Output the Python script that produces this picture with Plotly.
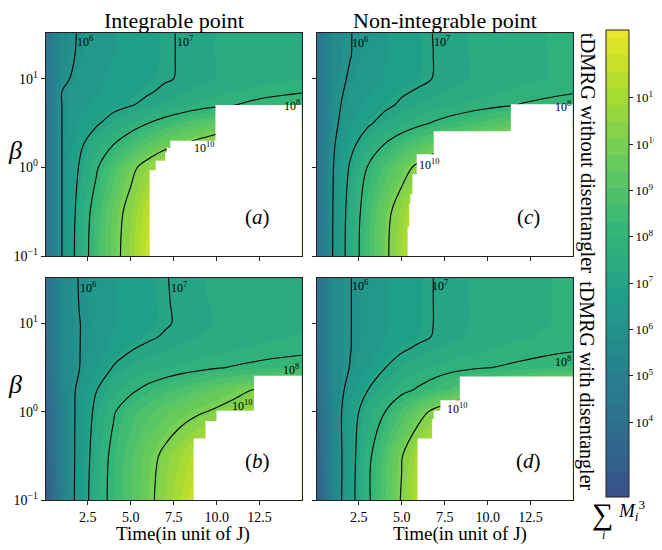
import numpy as np
import plotly.graph_objects as go
import plotly.colors as pc

# ---------------- data (log10 of sum_i M_i^3) ----------------
times = [0.05, 1, 2, 3, 4, 5, 6, 7, 8, 9, 10, 11, 12, 13, 14, 14.95]
betas = [0.1, 0.316, 1.0, 1.778, 3.162, 5.012, 7.079, 10.0, 17.78, 32.36]

# (a) integrable, without disentangler
z_a = [
    [4.0, 6.01, 7.4, 8.5, 9.6, 10.6, 11.8, 12.6, 13.2, 13.5, 13.7, 13.9, 14.0, 14.1, 14.2, 14.3],
    [4.0, 6.01, 7.3, 8.4, 9.5, 10.4, 11.5, 12.3, 12.9, 13.3, 13.6, 13.8, 13.9, 14.02, 14.1, 14.2],
    [4.0, 6.01, 7.05, 7.9, 8.8, 9.7, 10.5, 11.2, 11.8, 12.3, 12.7, 13.02, 13.2, 13.4, 13.5, 13.6],
    [4.0, 6.01, 6.85, 7.5, 8.02, 8.6, 9.15, 9.7, 10.05, 10.4, 10.7, 11.02, 11.3, 11.5, 11.7, 11.9],
    [4.1, 6.01, 6.55, 6.9, 7.3, 7.6, 7.98, 8.35, 8.7, 9.02, 9.3, 9.55, 9.8, 10.02, 10.2, 10.4],
    [4.1, 6.01, 6.4, 6.6, 6.8, 6.97, 7.15, 7.3, 7.5, 7.7, 7.85, 7.99, 8.15, 8.3, 8.4, 8.5],
    [4.2, 6.02, 6.35, 6.5, 6.65, 6.8, 6.95, 7.1, 7.22, 7.35, 7.48, 7.6, 7.7, 7.8, 7.88, 7.95],
    [4.3, 5.8, 6.25, 6.45, 6.6, 6.72, 6.83, 6.95, 7.05, 7.15, 7.25, 7.33, 7.4, 7.47, 7.53, 7.58],
    [4.3, 5.65, 6.12, 6.35, 6.52, 6.65, 6.78, 6.93, 7.05, 7.15, 7.25, 7.33, 7.4, 7.47, 7.53, 7.58],
    [4.3, 5.6, 6.08, 6.33, 6.5, 6.64, 6.78, 6.93, 7.05, 7.15, 7.25, 7.33, 7.4, 7.47, 7.53, 7.6],
]
# (b) integrable, with disentangler
z_b = [
    [2.8, 5.0, 6.4, 7.5, 8.3, 9.0, 9.7, 10.5, 11.3, 12.0, 12.5, 12.9, 13.2, 13.5, 13.7, 13.9],
    [3.1, 5.02, 6.35, 7.4, 8.25, 8.95, 9.6, 10.25, 10.9, 11.5, 12.02, 12.4, 12.7, 13.02, 13.2, 13.4],
    [3.4, 5.1, 6.3, 7.2, 7.93, 8.5, 8.95, 9.3, 9.6, 9.9, 10.15, 10.4, 10.6, 10.8, 11.02, 11.2],
    [3.6, 5.3, 6.2, 6.98, 7.45, 7.85, 8.2, 8.5, 8.8, 9.1, 9.4, 9.7, 9.98, 10.2, 10.4, 10.55],
    [3.8, 5.4, 5.98, 6.5, 7.05, 7.3, 7.45, 7.58, 7.7, 7.82, 7.95, 8.05, 8.15, 8.25, 8.33, 8.4],
    [3.9, 5.45, 5.98, 6.35, 6.7, 6.98, 7.12, 7.22, 7.32, 7.42, 7.5, 7.58, 7.65, 7.72, 7.78, 7.83],
    [4.0, 5.45, 5.98, 6.3, 6.55, 6.75, 6.92, 7.05, 7.15, 7.25, 7.33, 7.4, 7.47, 7.53, 7.58, 7.63],
    [4.0, 5.45, 5.98, 6.28, 6.48, 6.65, 6.8, 6.95, 7.08, 7.18, 7.26, 7.33, 7.4, 7.46, 7.52, 7.57],
    [4.0, 5.45, 6.02, 6.28, 6.48, 6.65, 6.8, 6.96, 7.1, 7.2, 7.28, 7.35, 7.42, 7.48, 7.54, 7.59],
    [4.0, 5.5, 6.04, 6.3, 6.5, 6.67, 6.82, 6.97, 7.12, 7.22, 7.3, 7.37, 7.43, 7.49, 7.55, 7.6],
]
# (c) non-integrable, without disentangler
z_c = [
    [4.0, 6.05, 7.4, 8.55, 9.7, 10.9, 12.0, 12.8, 13.3, 13.6, 13.8, 14.02, 14.1, 14.2, 14.3, 14.4],
    [4.0, 6.02, 7.35, 8.45, 9.6, 10.6, 11.6, 12.4, 13.02, 13.4, 13.6, 13.8, 13.9, 14.02, 14.1, 14.2],
    [4.1, 5.97, 7.1, 8.02, 8.75, 9.55, 10.3, 11.02, 11.6, 12.1, 12.5, 12.8, 13.02, 13.2, 13.4, 13.5],
    [4.1, 5.9, 6.8, 7.45, 8.05, 8.55, 9.05, 9.5, 9.9, 10.25, 10.55, 10.85, 11.1, 11.3, 11.5, 11.65],
    [4.1, 5.8, 6.45, 6.88, 7.25, 7.55, 7.82, 8.1, 8.35, 8.6, 8.85, 9.1, 9.3, 9.5, 9.7, 9.85],
    [4.2, 5.75, 6.3, 6.6, 6.87, 7.1, 7.28, 7.42, 7.55, 7.68, 7.8, 7.93, 8.05, 8.15, 8.25, 8.33],
    [4.2, 5.7, 6.2, 6.48, 6.7, 6.93, 7.07, 7.18, 7.3, 7.42, 7.52, 7.62, 7.72, 7.8, 7.88, 7.95],
    [4.3, 5.65, 6.1, 6.35, 6.55, 6.72, 6.88, 7.04, 7.15, 7.25, 7.35, 7.43, 7.5, 7.57, 7.63, 7.68],
    [4.3, 5.6, 5.98, 6.3, 6.5, 6.68, 6.85, 7.03, 7.15, 7.25, 7.35, 7.43, 7.5, 7.57, 7.63, 7.68],
    [4.3, 5.58, 5.97, 6.3, 6.5, 6.68, 6.86, 7.04, 7.16, 7.26, 7.36, 7.44, 7.51, 7.58, 7.64, 7.69],
]
# (d) non-integrable, with disentangler
z_d = [
    [2.9, 5.3, 6.7, 7.8, 8.95, 10.1, 11.4, 12.4, 13.1, 13.5, 13.8, 14.02, 14.1, 14.2, 14.3, 14.4],
    [3.2, 5.3, 6.65, 7.75, 8.8, 9.95, 11.1, 12.02, 12.7, 13.2, 13.5, 13.7, 13.85, 14.02, 14.1, 14.2],
    [3.5, 5.4, 6.6, 7.4, 7.98, 8.75, 9.6, 10.35, 11.02, 11.5, 11.9, 12.2, 12.5, 12.7, 12.9, 13.02],
    [3.7, 5.45, 6.3, 6.98, 7.4, 7.78, 8.1, 8.45, 8.8, 9.15, 9.5, 9.8, 10.1, 10.35, 10.6, 10.8],
    [3.8, 5.5, 6.03, 6.5, 6.98, 7.3, 7.5, 7.65, 7.8, 7.9, 7.98, 8.06, 8.14, 8.22, 8.3, 8.36],
    [3.9, 5.5, 5.98, 6.35, 6.65, 6.94, 7.12, 7.25, 7.38, 7.5, 7.6, 7.7, 7.78, 7.85, 7.91, 7.96],
    [4.0, 5.5, 5.98, 6.3, 6.52, 6.7, 6.88, 7.05, 7.18, 7.3, 7.4, 7.48, 7.55, 7.62, 7.68, 7.73],
    [4.0, 5.5, 5.98, 6.28, 6.5, 6.68, 6.85, 7.03, 7.15, 7.25, 7.35, 7.42, 7.5, 7.56, 7.62, 7.67],
    [4.0, 5.5, 5.98, 6.28, 6.5, 6.68, 6.85, 7.03, 7.15, 7.25, 7.35, 7.42, 7.5, 7.56, 7.62, 7.67],
    [4.0, 5.5, 5.98, 6.28, 6.5, 6.68, 6.85, 7.03, 7.15, 7.25, 7.35, 7.42, 7.5, 7.56, 7.62, 7.67],
]

# regions without data (simulation not reached): top beta of each band and time cut-off
mask_beta_a = [5.06, 2.0, 1.67, 1.47, 1.19, 0.93]
mask_t_a = [9.93, 7.30, 7.10, 7.0, 6.45, 6.1]
mask_beta_b = [2.56, 1.03, 0.79, 0.50]
mask_t_b = [12.17, 9.99, 9.35, 8.66]
mask_beta_c = [5.13, 2.56, 1.41, 0.84, 0.50, 0.39, 0.215]
mask_t_c = [11.35, 6.86, 5.87, 5.62, 5.5, 5.43, 5.34]
mask_beta_d = [2.51, 1.35, 1.03, 0.83, 0.50]
mask_t_d = [8.38, 7.25, 6.86, 6.77, 5.92]

x_ticks = [2.5, 5.0, 7.5, 10.0, 12.5]
x_ticktext = ["2.5", "5.0", "7.5", "10.0", "12.5"]
y_ticks = [0.1, 1, 10]
y_ticktext = ["10<sup>\u22121</sup>", "10<sup>0</sup>", "10<sup>1</sup>"]
cb_ticks = [4, 5, 6, 7, 8, 9, 10, 11]
cb_ticktext = ["10<sup>%d</sup>" % v for v in cb_ticks]
line_levels_a = (6, 8)
line_level_b = 10

# ---------------- style ----------------
OFF = 8          # default page margin of the html body
W, H = 662 - OFF, 550 - OFF
FONT = "Liberation Serif"


def px(x):
    return (x - OFF) / W


def py(y):
    return 1 - (y - OFF) / H


n = 24
cols = pc.sample_colorscale("Viridis", [0.25 + 0.72 * i / (n - 1) for i in range(n)])
colorscale = [[i / (n - 1), c] for i, c in enumerate(cols)]


def mask_poly(beta_tops, tcuts, xmax=16.0, bmin=0.05):
    xs = [xmax]
    ys = [beta_tops[0]]
    for i, (b, t) in enumerate(zip(beta_tops, tcuts)):
        nb = beta_tops[i + 1] if i + 1 < len(beta_tops) else bmin
        xs += [t, t]
        ys += [b, nb]
    xs.append(xmax)
    ys.append(bmin)
    return xs, ys


panels = [
    ("a", z_a, mask_beta_a, mask_t_a, "x", "y"),
    ("c", z_c, mask_beta_c, mask_t_c, "x2", "y2"),
    ("b", z_b, mask_beta_b, mask_t_b, "x3", "y3"),
    ("d", z_d, mask_beta_d, mask_t_d, "x4", "y4"),
]

fig = go.Figure()
for k, (name, z, mb, mt, xa, ya) in enumerate(panels):
    fig.add_trace(go.Contour(
        x=times, y=betas, z=z, xaxis=xa, yaxis=ya,
        colorscale=colorscale, autocontour=False,
        contours=dict(start=2.56, end=12.29, size=0.36, coloring="fill", showlines=False),
        line=dict(width=0), hoverinfo="skip",
        showscale=(k == 0),
        colorbar=dict(
            x=px(605.7), xanchor="left", y=py(267.5), yanchor="middle",
            thickness=23, thicknessmode="pixels", len=467, lenmode="pixels",
            xpad=0, ypad=0, outlinewidth=1, outlinecolor="#222",
            ticks="outside", ticklen=4, tickcolor="#222",
            tickvals=cb_ticks, ticktext=cb_ticktext,
            tickfont=dict(family=FONT, size=13, color="black"),
        ),
    ))
    fig.add_trace(go.Contour(
        x=times, y=betas, z=z, xaxis=xa, yaxis=ya, autocontour=False,
        contours=dict(start=line_levels_a[0], end=line_levels_a[1], size=1, coloring="none"),
        line=dict(color="black", width=1.1, smoothing=1), showscale=False, hoverinfo="skip",
    ))
    fig.add_trace(go.Contour(
        x=times, y=betas, z=z, xaxis=xa, yaxis=ya, autocontour=False,
        contours=dict(start=line_level_b, end=line_level_b + 0.1, size=1, coloring="none"),
        line=dict(color="black", width=1.1, smoothing=1), showscale=False, hoverinfo="skip",
    ))
    mx, my = mask_poly(mb, mt)
    fig.add_trace(go.Scatter(
        x=mx, y=my, xaxis=xa, yaxis=ya, mode="lines", fill="toself",
        fillcolor="white", line=dict(width=0, color="white"),
        hoverinfo="skip", showlegend=False,
    ))

xdom = {"a": [px(45.7), px(301.7)], "c": [px(316.7), px(572.7)]}
ydom_top = [py(260), py(33.7)]
ydom_bot = [py(507.7), py(282.3)]

axis_common = dict(showline=True, mirror=True, linecolor="#222", linewidth=1,
                   ticks="outside", ticklen=4, tickcolor="#222", showgrid=False,
                   zeroline=False, tickfont=dict(family=FONT, size=14, color="black"))


def xax(dom, anchor, labels):
    return dict(domain=dom, anchor=anchor, range=[0.05, 14.95], tickvals=x_ticks,
                ticktext=x_ticktext, showticklabels=labels, **axis_common)


def yax(dom, anchor, labels):
    return dict(domain=dom, anchor=anchor, type="log", range=[-1, np.log10(32.36)],
                tickvals=y_ticks, ticktext=y_ticktext, showticklabels=labels, **axis_common)


fig.update_layout(
    width=W, height=H, margin=dict(l=0, r=0, t=0, b=0),
    paper_bgcolor="white", plot_bgcolor="white", showlegend=False,
    xaxis=xax(xdom["a"], "y", False), yaxis=yax(ydom_top, "x", True),
    xaxis2=xax(xdom["c"], "y2", False), yaxis2=yax(ydom_top, "x2", False),
    xaxis3=xax(xdom["a"], "y3", True), yaxis3=yax(ydom_bot, "x3", True),
    xaxis4=xax(xdom["c"], "y4", True), yaxis4=yax(ydom_bot, "x4", False),
)

ann = []
# contour labels (t, log10 beta)
clabels = {
    ("x", "y"): [("10<sup>6</sup>", 2.33, 1.414), ("10<sup>7</sup>", 8.18, 1.414),
                 ("10<sup>8</sup>", 14.4, 0.70), ("10<sup>10</sup>", 9.29, 0.22)],
    ("x2", "y2"): [("10<sup>6</sup>", 2.57, 1.41), ("10<sup>7</sup>", 7.35, 1.414),
                   ("10<sup>8</sup>", 14.37, 0.686), ("10<sup>10</sup>", 6.57, 0.037)],
    ("x3", "y3"): [("10<sup>6</sup>", 2.52, 1.41), ("10<sup>7</sup>", 7.78, 1.41),
                   ("10<sup>8</sup>", 14.3, 0.474), ("10<sup>10</sup>", 11.49, 0.067)],
    ("x4", "y4"): [("10<sup>6</sup>", 2.57, 1.43), ("10<sup>7</sup>", 7.25, 1.43),
                   ("10<sup>8</sup>", 14.37, 0.567), ("10<sup>10</sup>", 8.23, 0.04)],
}
for (xr, yr), items in clabels.items():
    for txt, tx, ly in items:
        ann.append(dict(text=txt, x=tx, y=ly, xref=xr, yref=yr, showarrow=False,
                        font=dict(family=FONT, size=12, color="black")))

for name, xr, yr in [("a", "x", "y"), ("c", "x2", "y2"), ("b", "x3", "y3"), ("d", "x4", "y4")]:
    ann.append(dict(text="(<i>%s</i>)" % name, x=12.4, y=-0.56, xref=xr, yref=yr,
                    showarrow=False, font=dict(family=FONT, size=21, color="black")))


def pann(text, x, y, size, angle=0):
    ann.append(dict(text=text, x=px(x), y=py(y), xref="paper", yref="paper",
                    showarrow=False, textangle=angle, xanchor="center", yanchor="middle",
                    font=dict(family=FONT, size=size, color="black")))


pann("Integrable point", 173.7, 21, 22)
pann("Non-integrable point", 444.7, 21, 22)
pann("tDMRG without disentangler", 587, 155, 20.5, 90)
pann("tDMRG with disentangler", 587, 391, 20, 90)
pann("Time(in unit of J)", 183, 542, 19)
pann("Time(in unit of J)", 460, 542, 19)
pann("<i>\u03b2</i>", 15, 153, 26)
pann("<i>\u03b2</i>", 15, 390, 26)
pann("\u2211", 602, 522, 30)
pann("<i>i</i>", 603, 543, 12)
pann("<i>M</i><sub><i>i</i></sub><sup>3</sup>", 632, 518, 19)

fig.update_layout(annotations=ann)
fig.write_html("out.html")
